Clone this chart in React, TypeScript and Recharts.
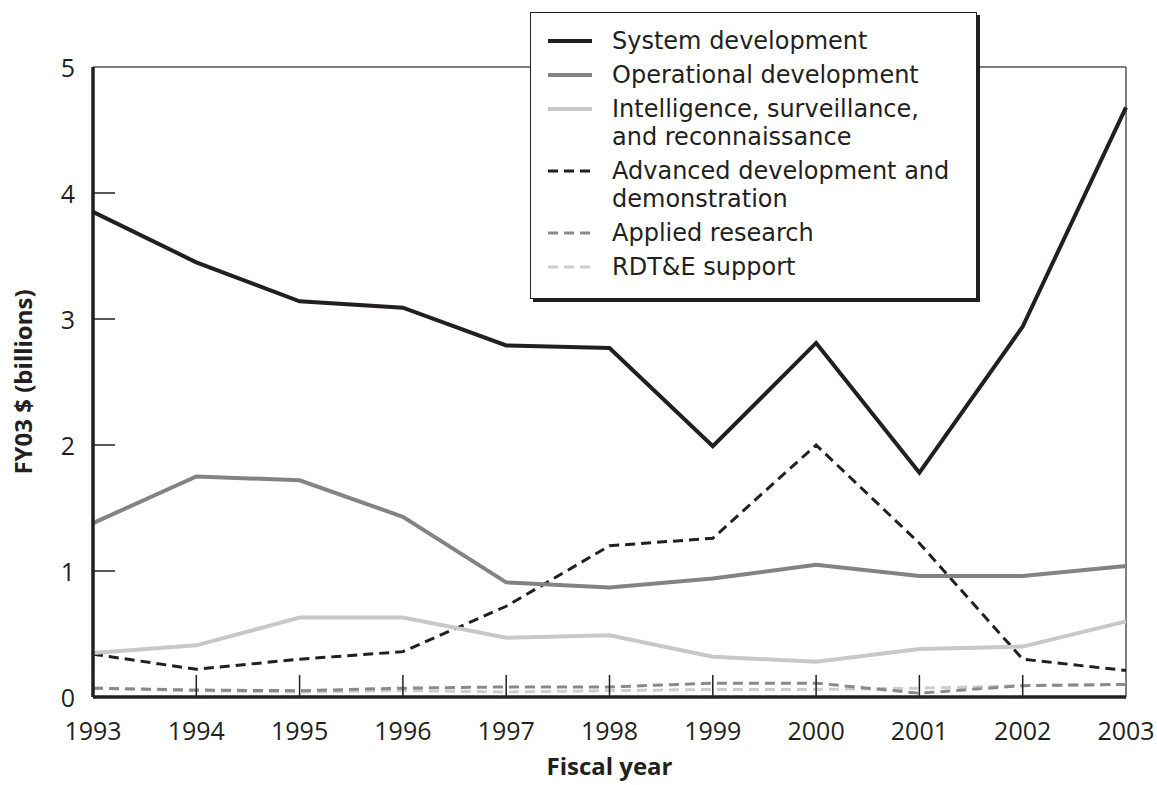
import { CartesianGrid, Line, LineChart, ReferenceLine, XAxis, YAxis } from 'recharts'

const years = [1993, 1994, 1995, 1996, 1997, 1998, 1999, 2000, 2001, 2002, 2003]
const systemDev = [3.85, 3.45, 3.14, 3.09, 2.79, 2.77, 1.99, 2.81, 1.78, 2.94, 4.68]
const operationalDev = [1.38, 1.75, 1.72, 1.43, 0.91, 0.87, 0.94, 1.05, 0.96, 0.96, 1.04]
const isr = [0.35, 0.41, 0.63, 0.63, 0.47, 0.49, 0.32, 0.28, 0.38, 0.4, 0.6]
const advancedDev = [0.34, 0.22, 0.3, 0.36, 0.72, 1.2, 1.26, 2.0, 1.22, 0.3, 0.21]
const appliedResearch = [0.07, 0.055, 0.05, 0.07, 0.08, 0.08, 0.11, 0.11, 0.03, 0.09, 0.1]
const rdteSupport = [0.07, 0.05, 0.04, 0.05, 0.04, 0.05, 0.06, 0.06, 0.07, 0.09, 0.1]
const yTicks = [0, 1, 2, 3, 4, 5]

const INK = '#231f20'
const FONT = '"Open Sans", "Noto Sans", sans-serif'
const LEGEND_FONT = '"DejaVu Sans", "Open Sans", sans-serif'

// legend order; drawing order is reversed so the dark lines sit on top
const series = [
  { key: 'system', name: ['System development'], color: INK, width: 4, dash: undefined },
  { key: 'operational', name: ['Operational development'], color: '#838383', width: 4, dash: undefined },
  { key: 'isr', name: ['Intelligence, surveillance,', 'and reconnaissance'], color: '#c8c8c8', width: 4, dash: undefined },
  { key: 'advanced', name: ['Advanced development and', 'demonstration'], color: INK, width: 3, dash: '10 6' },
  { key: 'applied', name: ['Applied research'], color: '#8a8a8a', width: 3, dash: '10 6' },
  { key: 'rdte', name: ['RDT&E support'], color: '#cdcdcd', width: 3, dash: '10 6' },
]

const data = years.map((year, i) => ({
  year,
  system: systemDev[i],
  operational: operationalDev[i],
  isr: isr[i],
  advanced: advancedDev[i],
  applied: appliedResearch[i],
  rdte: rdteSupport[i],
}))

const TICK_IN = 22
const X_MARGIN = 20
const Y_MARGIN = 18

function XTick(props: any) {
  const { x, y, payload } = props
  const axisY = y - X_MARGIN
  const edge = payload.value === years[0] || payload.value === years[years.length - 1]
  return (
    <g>
      {!edge && <line x1={x} x2={x} y1={axisY} y2={axisY - TICK_IN} stroke={INK} strokeWidth={1.5} />}
      <text x={x} y={axisY + 33} textAnchor="middle" dominantBaseline="central" fontSize={25} fill={INK} fontFamily={FONT}>
        {payload.value}
      </text>
    </g>
  )
}

function YTick(props: any) {
  const { x, y, payload } = props
  const axisX = x + Y_MARGIN
  const edge = payload.value === 0 || payload.value === 5
  return (
    <g>
      {!edge && <line x1={axisX} x2={axisX + TICK_IN} y1={y} y2={y} stroke={INK} strokeWidth={1.5} />}
      <text x={x} y={y} textAnchor="end" dominantBaseline="central" fontSize={25} fill={INK} fontFamily={FONT}>
        {payload.value}
      </text>
    </g>
  )
}

function LegendBox() {
  return (
    <div
      style={{
        position: 'absolute',
        left: 530,
        top: 12,
        width: 447,
        height: 287,
        boxSizing: 'border-box',
        border: `1.5px solid ${INK}`,
        boxShadow: `3px 3px 0 ${INK}`,
        background: '#fff',
        padding: '14px 0 0 17px',
        fontFamily: LEGEND_FONT,
        fontSize: 24,
        color: INK,
        zIndex: 2,
      }}
    >
      {series.map((s) => (
        <div key={s.key} style={{ display: 'flex', alignItems: 'flex-start', marginBottom: 6 }}>
          <svg width={44} height={28} style={{ flex: 'none', marginRight: 20 }}>
            <line x1={0} x2={44} y1={14} y2={14} stroke={s.color} strokeWidth={s.width} strokeDasharray={s.dash} />
          </svg>
          <div style={{ lineHeight: '28px', whiteSpace: 'nowrap' }}>
            {s.name.map((n) => (
              <div key={n}>{n}</div>
            ))}
          </div>
        </div>
      ))}
    </div>
  )
}

export default function App() {
  return (
    <div style={{ position: 'absolute', left: 0, top: 0, width: 1157, height: 785, background: '#fff' }}>
      <LineChart width={1157} height={785} data={data} margin={{ top: 67, right: 31, bottom: 0, left: 0 }}>
        <CartesianGrid horizontal={false} vertical={false} />
        <XAxis
          dataKey="year"
          type="number"
          domain={[1993, 2003]}
          ticks={years}
          interval={0}
          height={88}
          tickSize={0}
          tickMargin={X_MARGIN}
          tick={XTick}
          axisLine={{ stroke: INK, strokeWidth: 3.5 }}
          label={{
            content: (p: any) => (
              <text
                x={p.viewBox.x + p.viewBox.width / 2}
                y={p.viewBox.y + 68}
                textAnchor="middle"
                dominantBaseline="central"
                fontSize={24}
                fontWeight={700}
                fill={INK}
                fontFamily={FONT}
              >
                Fiscal year
              </text>
            ),
          }}
        />
        <YAxis
          type="number"
          domain={[0, 5]}
          ticks={yTicks}
          interval={0}
          width={93}
          tickSize={0}
          tickMargin={Y_MARGIN}
          tick={YTick}
          axisLine={{ stroke: INK, strokeWidth: 3.5 }}
          label={{
            content: (p: any) => {
              const cx = p.viewBox.x + 22
              const cy = p.viewBox.y + p.viewBox.height / 2
              return (
                <text
                  x={cx}
                  y={cy}
                  transform={`rotate(-90 ${cx} ${cy})`}
                  textAnchor="middle"
                  dominantBaseline="central"
                  fontSize={24}
                  fontWeight={700}
                  fill={INK}
                  fontFamily={FONT}
                >
                  FY03 $ (billions)
                </text>
              )
            },
          }}
        />
        <ReferenceLine y={5} stroke="#555" strokeWidth={1.5} />
        <ReferenceLine x={2003} stroke="#555" strokeWidth={1.5} />
        {[...series].reverse().map((s) => (
          <Line
            key={s.key}
            type="linear"
            dataKey={s.key}
            stroke={s.color}
            strokeWidth={s.width}
            strokeDasharray={s.dash}
            dot={false}
            activeDot={false}
            isAnimationActive={false}
          />
        ))}
      </LineChart>
      <LegendBox />
    </div>
  )
}
